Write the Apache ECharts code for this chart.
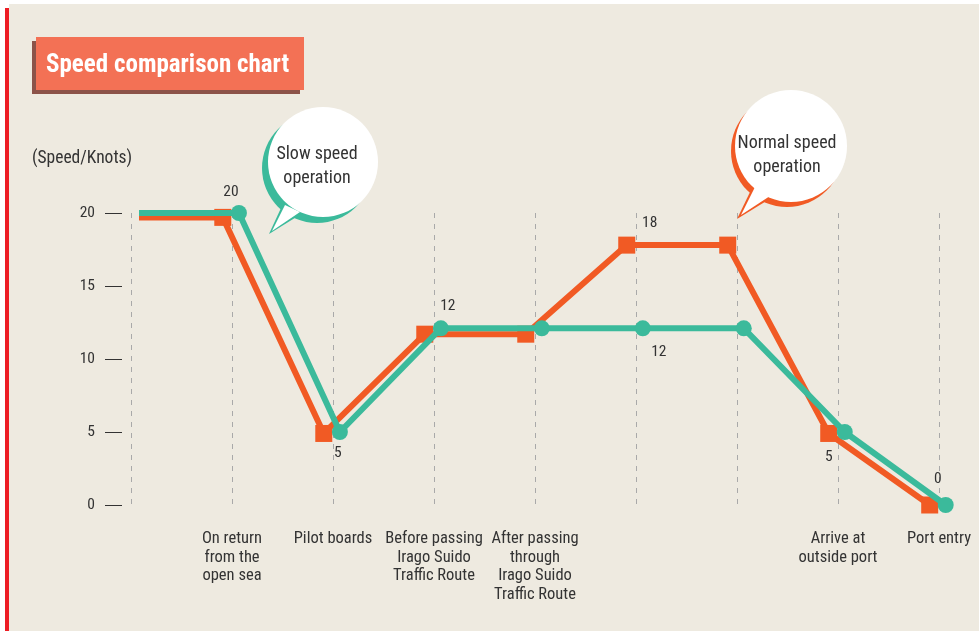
<!DOCTYPE html>
<html>
<head>
<meta charset="utf-8">
<script src="https://cdn.jsdelivr.net/npm/echarts@6/dist/echarts.min.js"></script>
<style>
  html, body { margin: 0; padding: 0; background: #fff; }
  #chart { width: 979px; height: 631px; }
</style>
</head>
<body>
<div id="chart"></div>
<script>
const categories = [
  "",
  "On return\nfrom the\nopen sea",
  "Pilot boards",
  "Before passing\nIrago Suido\nTraffic Route",
  "After passing\nthrough\nIrago Suido\nTraffic Route",
  "",
  "",
  "Arrive at\noutside port",
  "Port entry"
];
// orange squares: normal speed operation
const normalSpeed = [19.7, 19.7, 4.9, 11.7, 11.7, 17.8, 17.8, 4.9, 0];
const normalLabels = [null, null, null, null, null, 18, null, 5, null];
// teal circles: slow speed operation
const slowSpeed = [20, 20, 5, 12.1, 12.1, 12.1, 12.1, 5, 0];
const slowLabels = [null, 20, 5, 12, null, 12, null, null, 0];

const FONT = "'Liberation Sans Narrow', 'Roboto Condensed', 'DejaVu Sans Condensed', sans-serif";
const ORANGE = "#f15a24";
const TEAL = "#3bba9b";
const TEXT = "#333333";

const normalLabelPos = {
  5: { position: "top", offset: [23, 0] },
  7: { position: "bottom", offset: [0, 2] }
};
const slowLabelPos = {
  1: { position: "top", offset: [-8, 0] },
  2: { position: "bottom", offset: [-2, 0] },
  3: { position: "top", offset: [7, -1] },
  5: { position: "bottom", offset: [16, 3] },
  8: { position: "top", offset: [-8, -5] }
};

function buildData(values, labels, labelPos) {
  return values.map((v, i) => {
    const item = { value: [i, v] };
    if (i === 0) item.symbol = "none";
    if (labels[i] != null) {
      item.label = Object.assign({ show: true, formatter: String(labels[i]) }, labelPos[i]);
    }
    return item;
  });
}

const chart = echarts.init(document.getElementById("chart"), null, { renderer: "canvas" });

const hiddenY = (gridIndex) => ({
  type: "value", gridIndex, min: 0, max: 20, show: false
});

chart.setOption({
  animation: false,
  backgroundColor: "#ffffff",
  textStyle: { fontFamily: FONT },
  grid: [
    { left: 131, right: 40, top: 213, bottom: 126 },
    { left: 142, right: 19, top: 213, bottom: 126 },
    { left: 142, right: 3, top: 213, bottom: 126 }
  ],
  xAxis: [
    {
      type: "category", gridIndex: 0, data: categories, boundaryGap: false,
      axisLine: { show: false }, axisTick: { show: false },
      axisLabel: { interval: 0, color: TEXT, fontSize: 16.5, lineHeight: 18.5, margin: 25, fontFamily: FONT },
      splitLine: { show: true, interval: 0, lineStyle: { color: "#a9a9a9", width: 1, type: [5, 6] } }
    },
    { type: "value", gridIndex: 1, min: 0.2, max: 8.3, show: false },
    { type: "value", gridIndex: 2, min: 0.04, max: 8.3, show: false }
  ],
  yAxis: [
    {
      type: "value", gridIndex: 0, min: 0, max: 20, interval: 5, offset: 9,
      axisLine: { show: false },
      axisTick: { show: true, length: 17, lineStyle: { color: TEXT, width: 1 } },
      axisLabel: { color: TEXT, fontSize: 15.5, margin: 27, fontFamily: FONT },
      splitLine: { show: false }
    },
    hiddenY(1),
    hiddenY(2)
  ],
  series: [
    {
      name: "Normal speed operation", type: "line", xAxisIndex: 1, yAxisIndex: 1,
      data: buildData(normalSpeed, normalLabels, normalLabelPos),
      clip: true, symbol: "rect", symbolSize: 17, z: 3,
      lineStyle: { color: ORANGE, width: 6 }, itemStyle: { color: ORANGE },
      label: { color: TEXT, fontSize: 15.5, fontFamily: FONT },
      emphasis: { disabled: true }
    },
    {
      name: "Slow speed operation", type: "line", xAxisIndex: 2, yAxisIndex: 2,
      data: buildData(slowSpeed, slowLabels, slowLabelPos),
      clip: true, symbol: "circle", symbolSize: 16, z: 4,
      lineStyle: { color: TEAL, width: 6 }, itemStyle: { color: TEAL },
      label: { color: TEXT, fontSize: 15.5, fontFamily: FONT },
      emphasis: { disabled: true }
    }
  ],
  graphic: [
    { type: "rect", z: -10, silent: true, shape: { x: 9, y: 4, width: 970, height: 627 }, style: { fill: "#eeeae0" } },
    { type: "rect", z: -10, silent: true, shape: { x: 5, y: 8, width: 4, height: 623 }, style: { fill: "#ed1c24" } },
    // title
    { type: "rect", z: 10, shape: { x: 32, y: 41, width: 268, height: 53 }, style: { fill: "#8c5349" } },
    { type: "rect", z: 11, shape: { x: 36, y: 37, width: 268, height: 53 }, style: { fill: "#f37155" } },
    { type: "text", z: 12, x: 46, y: 66, style: { text: "Speed comparison chart", fill: "#ffffff", font: "bold 25px " + FONT, textVerticalAlign: "middle" } },
    // y axis unit
    { type: "text", z: 12, x: 32, y: 159, style: { text: "(Speed/Knots)", fill: TEXT, font: "17.5px " + FONT, textVerticalAlign: "middle" } },
    // slow speed bubble
    { type: "circle", z: 20, shape: { cx: 317, cy: 168, r: 55 }, style: { fill: TEAL } },
    { type: "polygon", z: 20, shape: { points: [[281, 208], [269, 234], [298, 216]] }, style: { fill: TEAL } },
    { type: "circle", z: 21, shape: { cx: 323, cy: 162, r: 55 }, style: { fill: "#ffffff" } },
    { type: "polygon", z: 21, shape: { points: [[285, 205], [272, 231], [300, 212]] }, style: { fill: "#ffffff" } },
    { type: "text", z: 22, x: 317, y: 166, style: { text: "Slow speed\noperation", fill: TEXT, font: "18px " + FONT, lineHeight: 24, align: "center", verticalAlign: "middle" } },
    // normal speed bubble
    { type: "circle", z: 20, shape: { cx: 787, cy: 151, r: 56 }, style: { fill: ORANGE } },
    { type: "polygon", z: 20, shape: { points: [[751, 190], [737, 219], [768, 200]] }, style: { fill: ORANGE } },
    { type: "circle", z: 21, shape: { cx: 791, cy: 146, r: 56 }, style: { fill: "#ffffff" } },
    { type: "polygon", z: 21, shape: { points: [[755, 187], [741, 215], [770, 196]] }, style: { fill: "#ffffff" } },
    { type: "text", z: 22, x: 787, y: 155, style: { text: "Normal speed\noperation", fill: TEXT, font: "18px " + FONT, lineHeight: 24, align: "center", verticalAlign: "middle" } }
  ]
});

window.addEventListener("resize", () => chart.resize());
</script>
</body>
</html>
